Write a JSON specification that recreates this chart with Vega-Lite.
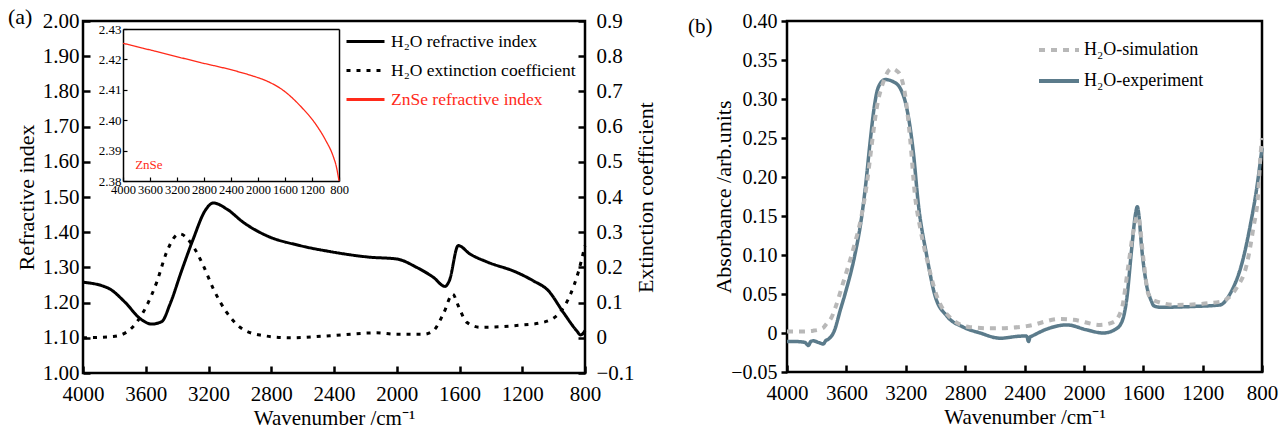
{
  "$schema": "https://vega.github.io/schema/vega-lite/v6.json",
  "padding": {"left": 6, "top": 4, "right": 0, "bottom": 0},
  "autosize": {"type": "pad"},
  "background": "white",
  "config": {
    "font": "Liberation Serif",
    "view": {"stroke": "black", "strokeWidth": 2.5},
    "axis": {"grid": false, "domain": false, "labelFont": "Liberation Serif", "titleFont": "Liberation Serif", "labelColor": "black", "titleColor": "black", "titleFontWeight": "normal", "tickColor": "black", "tickWidth": 2.5, "labelFontSize": 21, "titleFontSize": 22, "labelOverlap": false, "labelFlush": false, "labelBound": false},
    "legend": {"labelFont": "Liberation Serif", "labelColor": "black", "padding": 0, "labelLimit": 0},
    "title": {"font": "Liberation Serif", "fontWeight": "normal", "color": "black"}
  },
  "datasets": {
    "a": [
      {"s": "H₂O refractive index", "wn": 4000, "v": 1.258},
      {"s": "H₂O refractive index", "wn": 3839, "v": 1.241},
      {"s": "H₂O refractive index", "wn": 3732, "v": 1.201},
      {"s": "H₂O refractive index", "wn": 3637, "v": 1.155},
      {"s": "H₂O refractive index", "wn": 3562, "v": 1.139},
      {"s": "H₂O refractive index", "wn": 3498, "v": 1.146},
      {"s": "H₂O refractive index", "wn": 3445, "v": 1.196},
      {"s": "H₂O refractive index", "wn": 3371, "v": 1.291},
      {"s": "H₂O refractive index", "wn": 3297, "v": 1.381},
      {"s": "H₂O refractive index", "wn": 3222, "v": 1.461},
      {"s": "H₂O refractive index", "wn": 3169, "v": 1.483},
      {"s": "H₂O refractive index", "wn": 3084, "v": 1.466},
      {"s": "H₂O refractive index", "wn": 2978, "v": 1.428},
      {"s": "H₂O refractive index", "wn": 2829, "v": 1.390},
      {"s": "H₂O refractive index", "wn": 2617, "v": 1.362},
      {"s": "H₂O refractive index", "wn": 2426, "v": 1.345},
      {"s": "H₂O refractive index", "wn": 2171, "v": 1.329},
      {"s": "H₂O refractive index", "wn": 2000, "v": 1.324},
      {"s": "H₂O refractive index", "wn": 1873, "v": 1.300},
      {"s": "H₂O refractive index", "wn": 1767, "v": 1.272},
      {"s": "H₂O refractive index", "wn": 1692, "v": 1.246},
      {"s": "H₂O refractive index", "wn": 1665, "v": 1.262},
      {"s": "H₂O refractive index", "wn": 1608, "v": 1.362},
      {"s": "H₂O refractive index", "wn": 1533, "v": 1.338},
      {"s": "H₂O refractive index", "wn": 1427, "v": 1.316},
      {"s": "H₂O refractive index", "wn": 1236, "v": 1.286},
      {"s": "H₂O refractive index", "wn": 1130, "v": 1.262},
      {"s": "H₂O refractive index", "wn": 1034, "v": 1.234},
      {"s": "H₂O refractive index", "wn": 938, "v": 1.172},
      {"s": "H₂O refractive index", "wn": 853, "v": 1.120},
      {"s": "H₂O refractive index", "wn": 828, "v": 1.108},
      {"s": "H₂O refractive index", "wn": 800, "v": 1.120},
      {"s": "H₂O extinction coefficient", "wn": 4000, "v": 0.0},
      {"s": "H₂O extinction coefficient", "wn": 3807, "v": 0.004},
      {"s": "H₂O extinction coefficient", "wn": 3722, "v": 0.016},
      {"s": "H₂O extinction coefficient", "wn": 3658, "v": 0.044},
      {"s": "H₂O extinction coefficient", "wn": 3594, "v": 0.091},
      {"s": "H₂O extinction coefficient", "wn": 3530, "v": 0.158},
      {"s": "H₂O extinction coefficient", "wn": 3467, "v": 0.243},
      {"s": "H₂O extinction coefficient", "wn": 3403, "v": 0.292},
      {"s": "H₂O extinction coefficient", "wn": 3382, "v": 0.295},
      {"s": "H₂O extinction coefficient", "wn": 3307, "v": 0.266},
      {"s": "H₂O extinction coefficient", "wn": 3233, "v": 0.205},
      {"s": "H₂O extinction coefficient", "wn": 3169, "v": 0.139},
      {"s": "H₂O extinction coefficient", "wn": 3084, "v": 0.072},
      {"s": "H₂O extinction coefficient", "wn": 2999, "v": 0.030},
      {"s": "H₂O extinction coefficient", "wn": 2872, "v": 0.008},
      {"s": "H₂O extinction coefficient", "wn": 2681, "v": 0.0},
      {"s": "H₂O extinction coefficient", "wn": 2426, "v": 0.006},
      {"s": "H₂O extinction coefficient", "wn": 2128, "v": 0.014},
      {"s": "H₂O extinction coefficient", "wn": 2000, "v": 0.010},
      {"s": "H₂O extinction coefficient", "wn": 1830, "v": 0.010},
      {"s": "H₂O extinction coefficient", "wn": 1767, "v": 0.020},
      {"s": "H₂O extinction coefficient", "wn": 1703, "v": 0.068},
      {"s": "H₂O extinction coefficient", "wn": 1643, "v": 0.124},
      {"s": "H₂O extinction coefficient", "wn": 1608, "v": 0.091},
      {"s": "H₂O extinction coefficient", "wn": 1554, "v": 0.044},
      {"s": "H₂O extinction coefficient", "wn": 1469, "v": 0.030},
      {"s": "H₂O extinction coefficient", "wn": 1236, "v": 0.035},
      {"s": "H₂O extinction coefficient", "wn": 1066, "v": 0.044},
      {"s": "H₂O extinction coefficient", "wn": 960, "v": 0.072},
      {"s": "H₂O extinction coefficient", "wn": 896, "v": 0.120},
      {"s": "H₂O extinction coefficient", "wn": 843, "v": 0.186},
      {"s": "H₂O extinction coefficient", "wn": 800, "v": 0.262},
      {"s": "ZnSe refractive index", "wn": 4000, "v": 2.4253},
      {"s": "ZnSe refractive index", "wn": 3452, "v": 2.4223},
      {"s": "ZnSe refractive index", "wn": 2859, "v": 2.4190},
      {"s": "ZnSe refractive index", "wn": 2366, "v": 2.4164},
      {"s": "ZnSe refractive index", "wn": 2100, "v": 2.4147},
      {"s": "ZnSe refractive index", "wn": 1871, "v": 2.4129},
      {"s": "ZnSe refractive index", "wn": 1625, "v": 2.4098},
      {"s": "ZnSe refractive index", "wn": 1378, "v": 2.4048},
      {"s": "ZnSe refractive index", "wn": 1130, "v": 2.3982},
      {"s": "ZnSe refractive index", "wn": 1000, "v": 2.3935},
      {"s": "ZnSe refractive index", "wn": 884, "v": 2.3880},
      {"s": "ZnSe refractive index", "wn": 840, "v": 2.3848},
      {"s": "ZnSe refractive index", "wn": 800, "v": 2.3800}
    ],
    "b": [
      {"s": "H₂O-experiment", "wn": 4000, "v": -0.011},
      {"s": "H₂O-experiment", "wn": 3940, "v": -0.011},
      {"s": "H₂O-experiment", "wn": 3880, "v": -0.012},
      {"s": "H₂O-experiment", "wn": 3856, "v": -0.016},
      {"s": "H₂O-experiment", "wn": 3840, "v": -0.011},
      {"s": "H₂O-experiment", "wn": 3823, "v": -0.010},
      {"s": "H₂O-experiment", "wn": 3790, "v": -0.012},
      {"s": "H₂O-experiment", "wn": 3755, "v": -0.014},
      {"s": "H₂O-experiment", "wn": 3740, "v": -0.010},
      {"s": "H₂O-experiment", "wn": 3722, "v": -0.008},
      {"s": "H₂O-experiment", "wn": 3683, "v": 0.002},
      {"s": "H₂O-experiment", "wn": 3640, "v": 0.030},
      {"s": "H₂O-experiment", "wn": 3609, "v": 0.050},
      {"s": "H₂O-experiment", "wn": 3543, "v": 0.100},
      {"s": "H₂O-experiment", "wn": 3500, "v": 0.145},
      {"s": "H₂O-experiment", "wn": 3470, "v": 0.190},
      {"s": "H₂O-experiment", "wn": 3440, "v": 0.245},
      {"s": "H₂O-experiment", "wn": 3412, "v": 0.290},
      {"s": "H₂O-experiment", "wn": 3385, "v": 0.315},
      {"s": "H₂O-experiment", "wn": 3339, "v": 0.325},
      {"s": "H₂O-experiment", "wn": 3283, "v": 0.322},
      {"s": "H₂O-experiment", "wn": 3238, "v": 0.314},
      {"s": "H₂O-experiment", "wn": 3193, "v": 0.288},
      {"s": "H₂O-experiment", "wn": 3149, "v": 0.232},
      {"s": "H₂O-experiment", "wn": 3115, "v": 0.165},
      {"s": "H₂O-experiment", "wn": 3059, "v": 0.0995},
      {"s": "H₂O-experiment", "wn": 3003, "v": 0.048},
      {"s": "H₂O-experiment", "wn": 2924, "v": 0.022},
      {"s": "H₂O-experiment", "wn": 2812, "v": 0.0075},
      {"s": "H₂O-experiment", "wn": 2699, "v": 0.0},
      {"s": "H₂O-experiment", "wn": 2564, "v": -0.0067},
      {"s": "H₂O-experiment", "wn": 2420, "v": -0.004},
      {"s": "H₂O-experiment", "wn": 2385, "v": -0.004},
      {"s": "H₂O-experiment", "wn": 2373, "v": -0.011},
      {"s": "H₂O-experiment", "wn": 2362, "v": -0.005},
      {"s": "H₂O-experiment", "wn": 2351, "v": -0.004},
      {"s": "H₂O-experiment", "wn": 2250, "v": 0.005},
      {"s": "H₂O-experiment", "wn": 2115, "v": 0.0104},
      {"s": "H₂O-experiment", "wn": 1981, "v": 0.004},
      {"s": "H₂O-experiment", "wn": 1869, "v": 0.0},
      {"s": "H₂O-experiment", "wn": 1790, "v": 0.0044},
      {"s": "H₂O-experiment", "wn": 1745, "v": 0.0139},
      {"s": "H₂O-experiment", "wn": 1711, "v": 0.0439},
      {"s": "H₂O-experiment", "wn": 1678, "v": 0.108},
      {"s": "H₂O-experiment", "wn": 1650, "v": 0.155},
      {"s": "H₂O-experiment", "wn": 1640, "v": 0.162},
      {"s": "H₂O-experiment", "wn": 1630, "v": 0.152},
      {"s": "H₂O-experiment", "wn": 1610, "v": 0.108},
      {"s": "H₂O-experiment", "wn": 1577, "v": 0.061},
      {"s": "H₂O-experiment", "wn": 1543, "v": 0.040},
      {"s": "H₂O-experiment", "wn": 1530, "v": 0.035},
      {"s": "H₂O-experiment", "wn": 1487, "v": 0.033},
      {"s": "H₂O-experiment", "wn": 1263, "v": 0.034},
      {"s": "H₂O-experiment", "wn": 1083, "v": 0.036},
      {"s": "H₂O-experiment", "wn": 1016, "v": 0.050},
      {"s": "H₂O-experiment", "wn": 926, "v": 0.096},
      {"s": "H₂O-experiment", "wn": 881, "v": 0.136},
      {"s": "H₂O-experiment", "wn": 836, "v": 0.185},
      {"s": "H₂O-experiment", "wn": 800, "v": 0.237},
      {"s": "H₂O-simulation", "wn": 4000, "v": 0.002},
      {"s": "H₂O-simulation", "wn": 3900, "v": 0.002},
      {"s": "H₂O-simulation", "wn": 3823, "v": 0.003},
      {"s": "H₂O-simulation", "wn": 3760, "v": 0.006},
      {"s": "H₂O-simulation", "wn": 3733, "v": 0.012},
      {"s": "H₂O-simulation", "wn": 3700, "v": 0.020},
      {"s": "H₂O-simulation", "wn": 3677, "v": 0.031},
      {"s": "H₂O-simulation", "wn": 3621, "v": 0.065},
      {"s": "H₂O-simulation", "wn": 3553, "v": 0.108},
      {"s": "H₂O-simulation", "wn": 3497, "v": 0.151},
      {"s": "H₂O-simulation", "wn": 3463, "v": 0.190},
      {"s": "H₂O-simulation", "wn": 3430, "v": 0.240},
      {"s": "H₂O-simulation", "wn": 3396, "v": 0.288},
      {"s": "H₂O-simulation", "wn": 3351, "v": 0.322},
      {"s": "H₂O-simulation", "wn": 3295, "v": 0.339},
      {"s": "H₂O-simulation", "wn": 3260, "v": 0.336},
      {"s": "H₂O-simulation", "wn": 3238, "v": 0.331},
      {"s": "H₂O-simulation", "wn": 3204, "v": 0.305},
      {"s": "H₂O-simulation", "wn": 3171, "v": 0.250},
      {"s": "H₂O-simulation", "wn": 3137, "v": 0.175},
      {"s": "H₂O-simulation", "wn": 3103, "v": 0.135},
      {"s": "H₂O-simulation", "wn": 3048, "v": 0.087},
      {"s": "H₂O-simulation", "wn": 2992, "v": 0.048},
      {"s": "H₂O-simulation", "wn": 2902, "v": 0.020},
      {"s": "H₂O-simulation", "wn": 2767, "v": 0.0075},
      {"s": "H₂O-simulation", "wn": 2610, "v": 0.006},
      {"s": "H₂O-simulation", "wn": 2385, "v": 0.0088},
      {"s": "H₂O-simulation", "wn": 2160, "v": 0.018},
      {"s": "H₂O-simulation", "wn": 2070, "v": 0.0169},
      {"s": "H₂O-simulation", "wn": 1891, "v": 0.0104},
      {"s": "H₂O-simulation", "wn": 1801, "v": 0.014},
      {"s": "H₂O-simulation", "wn": 1745, "v": 0.031},
      {"s": "H₂O-simulation", "wn": 1700, "v": 0.087},
      {"s": "H₂O-simulation", "wn": 1667, "v": 0.130},
      {"s": "H₂O-simulation", "wn": 1640, "v": 0.150},
      {"s": "H₂O-simulation", "wn": 1633, "v": 0.149},
      {"s": "H₂O-simulation", "wn": 1599, "v": 0.095},
      {"s": "H₂O-simulation", "wn": 1566, "v": 0.050},
      {"s": "H₂O-simulation", "wn": 1532, "v": 0.042},
      {"s": "H₂O-simulation", "wn": 1375, "v": 0.036},
      {"s": "H₂O-simulation", "wn": 1083, "v": 0.040},
      {"s": "H₂O-simulation", "wn": 971, "v": 0.058},
      {"s": "H₂O-simulation", "wn": 904, "v": 0.087},
      {"s": "H₂O-simulation", "wn": 859, "v": 0.134},
      {"s": "H₂O-simulation", "wn": 825, "v": 0.181},
      {"s": "H₂O-simulation", "wn": 813, "v": 0.220},
      {"s": "H₂O-simulation", "wn": 800, "v": 0.250}
    ]
  },
  "spacing": 202,
  "bounds": "flush",
  "resolve": {"scale": {"color": "independent", "strokeDash": "independent"}},
  "hconcat": [
    {
      "width": 502,
      "height": 352,
      "title": {"text": "(a)", "anchor": "start", "frame": "group", "dx": -75, "offset": -19, "fontSize": 22},
      "data": {"name": "a"},
      "resolve": {"scale": {"x": "independent", "y": "independent"}},
      "layer": [
        {
          "transform": [{"filter": "datum.s === 'H₂O refractive index'"}],
          "mark": {"type": "line", "strokeWidth": 3, "interpolate": "monotone"},
          "encoding": {
            "x": {"field": "wn", "type": "quantitative", "scale": {"domain": [4000, 800], "nice": false, "zero": false},
              "axis": {"orient": "bottom", "values": [4000, 3600, 3200, 2800, 2400, 2000, 1600, 1200, 800], "format": "d", "tickSize": -7, "labelPadding": 17, "title": "Wavenumber /cm⁻¹", "titleFontSize": 21, "titlePadding": 3}},
            "y": {"field": "v", "type": "quantitative", "scale": {"domain": [1, 2], "nice": false, "zero": false},
              "axis": {"orient": "left", "values": [1, 1.1, 1.2, 1.3, 1.4, 1.5, 1.6, 1.7, 1.8, 1.9, 2], "format": ".2f", "tickSize": -7, "labelPadding": 11, "title": "Refractive index", "titlePadding": 4}},
            "color": {"field": "s", "type": "nominal", "scale": {"domain": ["H₂O refractive index", "H₂O extinction coefficient", "ZnSe refractive index"], "range": ["black", "black", "#ff2a1a"]},
              "legend": {"title": null, "orient": "none", "legendX": 262, "legendY": 0, "symbolType": "stroke", "symbolSize": 1444, "symbolStrokeWidth": 3, "labelFontSize": 17.5, "labelOffset": 5, "rowPadding": -8, "labelColor": {"expr": "datum.label === 'ZnSe refractive index' ? '#ff2a1a' : 'black'"}}},
            "strokeDash": {"field": "s", "type": "nominal", "scale": {"domain": ["H₂O refractive index", "H₂O extinction coefficient", "ZnSe refractive index"], "range": [[1, 0], [4, 6], [1, 0]]},
              "legend": {"title": null, "orient": "none", "legendX": 262, "legendY": 0, "symbolType": "stroke", "symbolSize": 1444, "symbolStrokeWidth": 3, "labelFontSize": 17.5, "labelOffset": 5, "rowPadding": -8, "labelColor": {"expr": "datum.label === 'ZnSe refractive index' ? '#ff2a1a' : 'black'"}}}
          }
        },
        {
          "transform": [{"filter": "datum.s === 'H₂O extinction coefficient'"}],
          "mark": {"type": "line", "strokeWidth": 3, "interpolate": "monotone"},
          "encoding": {
            "x": {"field": "wn", "type": "quantitative", "scale": {"domain": [4000, 800], "nice": false, "zero": false}, "axis": null},
            "y": {"field": "v", "type": "quantitative", "scale": {"domain": [-0.1, 0.9], "nice": false, "zero": false},
              "axis": {"orient": "right", "values": [-0.1, 0, 0.1, 0.2, 0.3, 0.4, 0.5, 0.6, 0.7, 0.8, 0.9], "format": ".1~f", "tickSize": -7, "labelPadding": 18, "title": "Extinction coefficient", "titleAngle": 270, "titlePadding": 23}},
            "color": {"field": "s", "type": "nominal", "scale": {"domain": ["H₂O refractive index", "H₂O extinction coefficient", "ZnSe refractive index"], "range": ["black", "black", "#ff2a1a"]}},
            "strokeDash": {"field": "s", "type": "nominal", "scale": {"domain": ["H₂O refractive index", "H₂O extinction coefficient", "ZnSe refractive index"], "range": [[1, 0], [4, 6], [1, 0]]}}
          }
        },
        {
          "transform": [{"filter": "datum.s === 'ZnSe refractive index'"}],
          "mark": {"type": "line", "strokeWidth": 1.3, "interpolate": "monotone"},
          "encoding": {
            "x": {"field": "wn", "type": "quantitative", "scale": {"domain": [4000, 800], "range": [40, 256], "nice": false, "zero": false},
              "axis": {"orient": "bottom", "offset": -192, "values": [4000, 3600, 3200, 2800, 2400, 2000, 1600, 1200, 800], "format": "d", "domain": true, "domainColor": "black", "domainWidth": 1.5, "tickSize": -4, "tickWidth": 1.2, "labelFontSize": 12.5, "labelPadding": 6, "title": null}},
            "y": {"field": "v", "type": "quantitative", "scale": {"domain": [2.38, 2.43], "range": [160, 8], "nice": false, "zero": false},
              "axis": {"orient": "left", "offset": -40, "values": [2.38, 2.39, 2.4, 2.41, 2.42, 2.43], "format": ".2f", "domain": true, "domainColor": "black", "domainWidth": 1.5, "tickSize": -4, "tickWidth": 1.2, "labelFontSize": 13, "labelPadding": 6, "title": null}},
            "color": {"field": "s", "type": "nominal", "scale": {"domain": ["H₂O refractive index", "H₂O extinction coefficient", "ZnSe refractive index"], "range": ["black", "black", "#ff2a1a"]}},
            "strokeDash": {"field": "s", "type": "nominal", "scale": {"domain": ["H₂O refractive index", "H₂O extinction coefficient", "ZnSe refractive index"], "range": [[1, 0], [4, 6], [1, 0]]}}
          }
        },
        {
          "data": {"values": [{"label": "ZnSe"}]},
          "mark": {"type": "text", "align": "left", "baseline": "middle", "fontSize": 13, "color": "#ff2a1a", "font": "Liberation Serif"},
          "encoding": {
            "x": {"datum": 3820, "type": "quantitative", "scale": {"domain": [4000, 800], "range": [40, 256], "nice": false, "zero": false},
              "axis": {"orient": "top", "offset": -8, "labels": false, "ticks": false, "domain": true, "domainColor": "black", "domainWidth": 1.5, "title": null}},
            "y": {"datum": 2.3853, "type": "quantitative", "scale": {"domain": [2.38, 2.43], "range": [160, 8], "nice": false, "zero": false},
              "axis": {"orient": "right", "offset": -246, "labels": false, "ticks": false, "domain": true, "domainColor": "black", "domainWidth": 1.5, "title": null}},
            "text": {"field": "label"}
          }
        }
      ]
    },
    {
      "width": 475,
      "height": 351,
      "title": {"text": "(b)", "anchor": "start", "frame": "group", "dx": -99, "offset": -25.5, "fontSize": 21},
      "data": {"name": "b"},
      "encoding": {
        "x": {"field": "wn", "type": "quantitative", "scale": {"domain": [4000, 800], "nice": false, "zero": false},
          "axis": {"orient": "bottom", "values": [4000, 3600, 3200, 2800, 2400, 2000, 1600, 1200, 800], "format": "d", "tickSize": -7, "labelPadding": 17, "title": "Wavenumber /cm⁻¹", "titleFontSize": 21, "titlePadding": 3}},
        "y": {"field": "v", "type": "quantitative", "scale": {"domain": [-0.05, 0.4], "nice": false, "zero": false},
          "axis": {"orient": "left", "values": [-0.05, 0, 0.05, 0.1, 0.15, 0.2, 0.25, 0.3, 0.35, 0.4], "labelExpr": "datum.value === 0 ? '0' : format(datum.value, '.2f')", "tickSize": 6, "labelPadding": 4, "labelFontSize": 20, "title": "Absorbance /arb.units", "titlePadding": -5}},
        "color": {"field": "s", "type": "nominal", "scale": {"domain": ["H₂O-simulation", "H₂O-experiment"], "range": ["#b8b8b8", "#5b7b8b"]},
          "legend": {"title": null, "orient": "none", "legendX": 250, "legendY": 7, "symbolType": "stroke", "symbolSize": 1600, "symbolStrokeWidth": 4, "labelFontSize": 18, "labelOffset": 3, "rowPadding": -10}},
        "strokeDash": {"field": "s", "type": "nominal", "scale": {"domain": ["H₂O-simulation", "H₂O-experiment"], "range": [[6, 6], [1, 0]]},
          "legend": {"title": null, "orient": "none", "legendX": 250, "legendY": 7, "symbolType": "stroke", "symbolSize": 1600, "symbolStrokeWidth": 4, "labelFontSize": 18, "labelOffset": 3, "rowPadding": -10}}
      },
      "layer": [
        {
          "transform": [{"filter": "datum.s === 'H₂O-experiment'"}],
          "mark": {"type": "line", "strokeWidth": 3.5, "interpolate": "monotone"}
        },
        {
          "transform": [{"filter": "datum.s === 'H₂O-simulation'"}],
          "mark": {"type": "line", "strokeWidth": 4, "interpolate": "monotone"}
        }
      ]
    }
  ]
}
